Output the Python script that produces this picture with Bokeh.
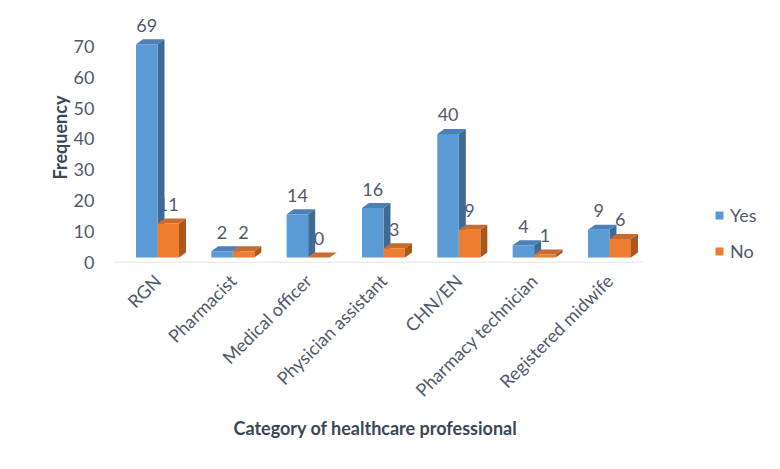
import math
from bokeh.plotting import figure
from bokeh.models import Range1d, FixedTicker, Legend, LegendItem, Title
from bokeh.embed import file_html
from bokeh.resources import INLINE

# ---- data ----
categories = ["RGN", "Pharmacist", "Medical officer", "Physician assistant",
              "CHN/EN", "Pharmacy technician", "Registered midwife"]
yes_values = [69, 2, 14, 16, 40, 4, 9]
no_values = [11, 2, 0, 3, 9, 1, 6]
y_ticks = [0, 10, 20, 30, 40, 50, 60, 70]
series_names = ["Yes", "No"]

# ---- layout / style ----
W, H = 764, 453
ML, MR, MT, MB = 113, 0, 12, 191
FW = W - ML - MR
FH = H - MT - MB
AXW = 529            # width of the category axis (px)
PX_Y = 3.09          # pixels per unit (y)
PX_X = 75.33         # pixels per category
X0 = -44 / PX_X
BW = 21.5 / PX_X     # bar width (data units)
DX = 7 / PX_X        # 3D depth x
DY = 5 / PX_Y        # 3D depth y
BASE = DY

FONT = "Lato"
FS = "18px"
TXT = "#4f5a6a"
TTL = "#3b4759"

colors = {
    "Yes": dict(front="#5b9bd5", side="#3e6a96", top="#4d80b6"),
    "No": dict(front="#ed7d31", side="#ab561d", top="#c96a2e"),
}

p = figure(width=W, height=H, output_backend="svg", toolbar_location=None,
           x_range=Range1d(X0, X0 + FW / PX_X), y_range=Range1d(0, FH / PX_Y),
           min_border_left=ML, min_border_right=MR, min_border_top=MT,
           min_border_bottom=MB, background_fill_color="white",
           border_fill_color="white", outline_line_color=None)
p.grid.visible = False

# ground line (floor edge)
p.segment(x0=[X0], x1=[X0 + AXW / PX_X], y0=[0], y1=[0],
          line_color="#d9d9d9", line_width=1.5)

# data labels (drawn first: bars occlude them as in the original)
for k, (name, vals) in enumerate(zip(series_names, [yes_values, no_values])):
    sign = -1 if k == 0 else 1
    xs = [i + sign * BW / 2 for i in range(len(categories))]
    ys = [BASE + v + DY for v in vals]
    p.text(x=xs, y=ys, text=[str(v) for v in vals], text_align="center",
           text_baseline="middle", y_offset=-14, text_font_size=FS,
           text_color=TXT, text_font={"value": FONT})

front_renderers = {}
for k, (name, vals) in enumerate(zip(series_names, [yes_values, no_values])):
    c = colors[name]
    left = [i - BW if k == 0 else i for i in range(len(categories))]
    right = [l + BW for l in left]
    tops = [BASE + v for v in vals]
    side_xs = [[r, r + DX, r + DX, r] for r in right]
    side_ys = [[BASE, BASE + DY, t + DY, t] for t in tops]
    top_xs = [[l, r, r + DX, l + DX] for l, r in zip(left, right)]
    top_ys = [[t, t, t + DY, t + DY] for t in tops]
    p.patches(side_xs, side_ys, fill_color=c["side"], line_color=None)
    p.patches(top_xs, top_ys, fill_color=c["top"], line_color=None)
    front_renderers[name] = p.quad(left=left, right=right, bottom=[BASE] * len(vals),
                                   top=tops, fill_color=c["front"], line_color=None)

# axes
p.yaxis.ticker = FixedTicker(ticks=y_ticks)
p.yaxis.axis_line_color = None
p.yaxis.major_tick_line_color = None
p.yaxis.minor_tick_line_color = None
p.yaxis.major_label_standoff = 13
p.yaxis.major_label_text_font = FONT
p.yaxis.major_label_text_font_size = FS
p.yaxis.major_label_text_color = TXT
p.yaxis.axis_label = "Frequency"
p.yaxis.axis_label_text_font = FONT
p.yaxis.axis_label_text_font_style = "bold"
p.yaxis.axis_label_text_font_size = FS
p.yaxis.axis_label_text_color = TTL
p.yaxis.axis_label_standoff = 0

p.xaxis.ticker = FixedTicker(ticks=list(range(len(categories))))
p.xaxis.major_label_overrides = {i: c for i, c in enumerate(categories)}
p.xaxis.axis_line_color = None
p.xaxis.major_tick_line_color = None
p.xaxis.minor_tick_line_color = None
p.xaxis.major_label_orientation = math.pi / 4
p.xaxis.major_label_standoff = 9
p.xaxis.major_label_text_font = FONT
p.xaxis.major_label_text_font_size = FS
p.xaxis.major_label_text_color = TXT

# category-axis title, placed under the category axis
xtitle = Title(text="Category of healthcare professional", align="left",
               offset=120, standoff=7, text_font=FONT,
               text_font_size=FS, text_font_style="bold", text_color=TTL)
p.add_layout(xtitle, "below")

legend = Legend(items=[LegendItem(label=n, renderers=[front_renderers[n]]) for n in series_names],
                location=(601, 0), padding=0, margin=0, spacing=14,
                label_height=20, glyph_height=10, glyph_width=10, label_standoff=6,
                label_text_font=FONT, label_text_font_size=FS, label_text_color=TXT,
                background_fill_alpha=0, border_line_color=None)
p.add_layout(legend)

open("out.html", "w").write(file_html(p, INLINE))
